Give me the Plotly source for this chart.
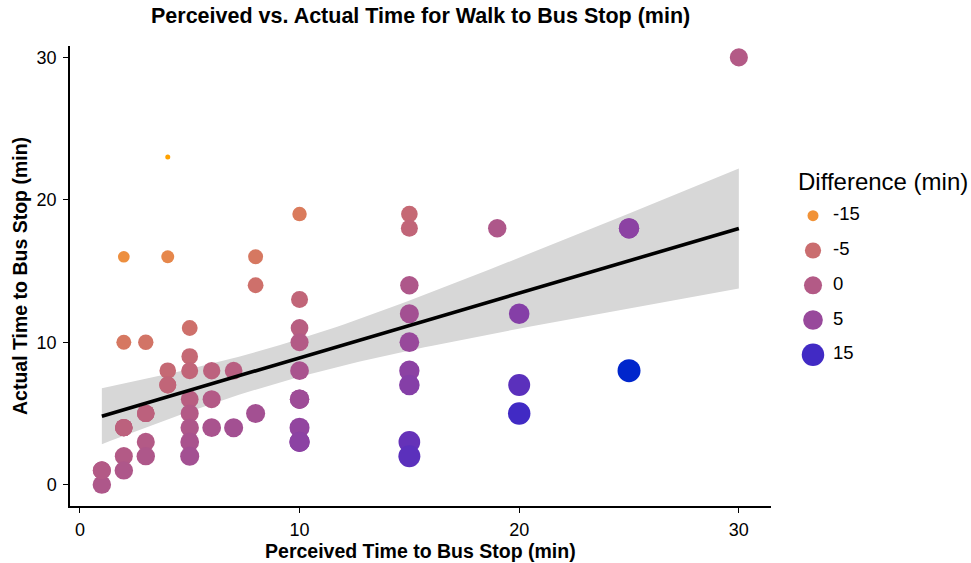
import numpy as np
import plotly.graph_objects as go

# ---- data (overplotted duplicates included, as implied by the fitted line) ----
perceived = [1, 1, 1,
             2, 2, 2, 2, 2, 2, 2, 2,
             3, 3, 3, 3, 3, 3,
             4, 4, 4, 4, 4,
             5, 5, 5, 5, 5, 5, 5, 5,
             6, 6, 6,
             7, 7,
             8, 8, 8,
             10, 10, 10, 10, 10, 10, 10, 10, 10, 10,
             15, 15, 15, 15, 15, 15, 15, 15, 15,
             19,
             20, 20, 20,
             25, 25, 25,
             30]
actual = [1, 0, 1,
          16, 10, 4, 2, 1, 4, 4, 4,
          10, 5, 3, 2, 5, 5,
          23, 16, 8, 7, 7,
          11, 9, 8, 6, 5, 4, 3, 2,
          8, 6, 4,
          8, 4,
          16, 14, 5,
          19, 13, 11, 10, 8, 6, 4, 3, 3, 6,
          19, 18, 14, 12, 10, 8, 7, 3, 2,
          18,
          12, 7, 5,
          18, 8, 18,
          30]
legend_breaks = [-15, -5, 0, 5, 15]
x_ticks = [0, 10, 20, 30]
y_ticks = [0, 10, 20, 30]

x = np.array(perceived, float)
y = np.array(actual, float)
diff = x - y
dmin, dmax = diff.min(), diff.max()

# ---- colour scale: Lab interpolation (like ggplot scale_colour_gradient) ----
def srgb_to_lin(c):
    c = c / 255.0
    return np.where(c <= 0.04045, c / 12.92, ((c + 0.055) / 1.055) ** 2.4)

def lin_to_srgb(c):
    c = np.clip(c, 0, 1)
    return np.where(c <= 0.0031308, 12.92 * c, 1.055 * c ** (1 / 2.4) - 0.055) * 255

M = np.array([[0.4124, 0.3576, 0.1805], [0.2126, 0.7152, 0.0722], [0.0193, 0.1192, 0.9505]])
Minv = np.linalg.inv(M)
WP = np.array([0.95047, 1.0, 1.08883])

def f(t):
    d = 6 / 29
    return np.where(t > d ** 3, np.cbrt(t), t / (3 * d * d) + 4 / 29)

def finv(t):
    d = 6 / 29
    return np.where(t > d, t ** 3, 3 * d * d * (t - 4 / 29))

def hex_to_lab(h):
    rgb = np.array([int(h[i:i + 2], 16) for i in (1, 3, 5)], float)
    xyz = M @ srgb_to_lin(rgb) / WP
    fx, fy, fz = f(xyz)
    return np.array([116 * fy - 16, 500 * (fx - fy), 200 * (fy - fz)])

def lab_to_hex(lab):
    L, a, b = lab
    fy = (L + 16) / 116
    fx = fy + a / 500
    fz = fy - b / 200
    xyz = finv(np.array([fx, fy, fz])) * WP
    rgb = lin_to_srgb(Minv @ xyz)
    r, g, bb = [int(round(float(v))) for v in rgb]
    return "#%02x%02x%02x" % (r, g, bb)

LOW, HIGH = hex_to_lab("#FFA200"), hex_to_lab("#0026CC")

def colour(d):
    t = (d - dmin) / (dmax - dmin)
    return lab_to_hex(LOW + (HIGH - LOW) * t)

def size(d):
    t = (d - dmin) / (dmax - dmin)
    s = 1 + 5 * np.sqrt(t)
    return 1.4 + 3.6 * s

# ---- linear fit with 95% CI ----
X = np.column_stack([np.ones_like(x), x])
beta, *_ = np.linalg.lstsq(X, y, rcond=None)
resid = y - X @ beta
n = len(x)
sigma2 = resid @ resid / (n - 2)
XtXi = np.linalg.inv(X.T @ X)
xg = np.linspace(x.min(), x.max(), 80)
Xg = np.column_stack([np.ones_like(xg), xg])
yg = Xg @ beta
se = np.sqrt(sigma2 * np.einsum("ij,jk,ik->i", Xg, XtXi, Xg))
tq = 2.0
lo, hi = yg - tq * se, yg + tq * se

FONT = "Liberation Sans, Arial, sans-serif"

fig = go.Figure()
fig.add_trace(go.Scatter(
    x=np.concatenate([xg, xg[::-1]]), y=np.concatenate([hi, lo[::-1]]),
    fill="toself", fillcolor="#D7D7D7", line=dict(width=0), mode="lines",
    hoverinfo="skip", showlegend=False))
fig.add_trace(go.Scatter(
    x=x, y=y, mode="markers", showlegend=False,
    marker=dict(color=[colour(d) for d in diff], size=[size(d) for d in diff],
                line=dict(width=0), opacity=1)))
fig.add_trace(go.Scatter(x=xg, y=yg, mode="lines", line=dict(color="black", width=3.6),
                         showlegend=False, hoverinfo="skip"))

# ---- manual legend on a hidden pixel-coordinate axis ----
leg_y = [215.7, 250.5, 285.3, 320, 354.8]
fig.add_trace(go.Scatter(
    x=[813] * len(legend_breaks), y=leg_y, xaxis="x2", yaxis="y2", mode="markers",
    marker=dict(color=[colour(b) for b in legend_breaks],
                size=[size(b) for b in legend_breaks], line=dict(width=0), opacity=1),
    showlegend=False, hoverinfo="skip", cliponaxis=False))
fig.add_trace(go.Scatter(
    x=[833] * len(legend_breaks), y=leg_y, xaxis="x2", yaxis="y2", mode="text",
    text=[str(b) for b in legend_breaks], textposition="middle right",
    textfont=dict(size=18.5, color="black", family=FONT),
    showlegend=False, hoverinfo="skip", cliponaxis=False))

W, H = 971, 563
ML, MT, MB = 70, 46, 57
pw = W - ML
plot_right = 770.7
dom_main = (plot_right - ML) / pw

axis_common = dict(showgrid=False, zeroline=False, showline=True, linecolor="black", linewidth=1.5,
                   ticks="outside", ticklen=5, tickwidth=1.2, tickcolor="black",
                   tickfont=dict(size=18, color="black"))
fig.update_layout(
    width=W, height=H, margin=dict(l=ML, r=0, t=MT, b=MB),
    paper_bgcolor="white", plot_bgcolor="white",
    font=dict(family=FONT, color="black", size=18),
    showlegend=False,
    xaxis=dict(domain=[0, dom_main], range=[-0.45, 31.45], tickvals=x_ticks, ticklabelstandoff=2,
               **axis_common,
               title=dict(text="<b>Perceived Time to Bus Stop (min)</b>", font=dict(size=19.5), standoff=3)),
    yaxis=dict(range=[-1.5, 30.8], tickvals=y_ticks, ticklabelstandoff=3, **axis_common,
               title=dict(text="<b>Actual Time to Bus Stop (min)</b>", font=dict(size=19.5), standoff=4)),
    xaxis2=dict(domain=[dom_main + 0.001, 1], range=[ML + (dom_main + 0.001) * pw, W],
                visible=False, fixedrange=True),
    yaxis2=dict(domain=[0, 1], range=[H - MB, MT], anchor="x2", visible=False, fixedrange=True),
    annotations=[
        dict(text="<b>Perceived vs. Actual Time for Walk to Bus Stop (min)</b>",
             xref="x", yref="paper", x=15.5, y=1, yshift=30, xanchor="center", yanchor="middle",
             showarrow=False, font=dict(size=21.5, color="black")),
        dict(text="Difference (min)", xref="x2", yref="y2", x=796, y=181.7,
             xanchor="left", yanchor="middle", showarrow=False, font=dict(size=24, color="black")),
    ],
)

fig.write_html("out.html")
